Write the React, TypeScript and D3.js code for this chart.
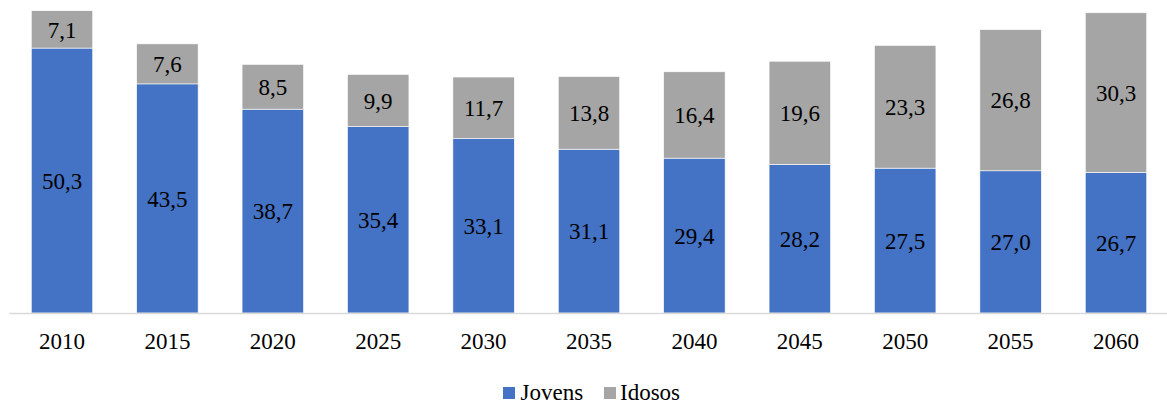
import React from "react";
import * as d3 from "d3";

const years = ["2010", "2015", "2020", "2025", "2030", "2035", "2040", "2045", "2050", "2055", "2060"];
const jovens = [50.3, 43.5, 38.7, 35.4, 33.1, 31.1, 29.4, 28.2, 27.5, 27.0, 26.7];
const idosos = [7.1, 7.6, 8.5, 9.9, 11.7, 13.8, 16.4, 19.6, 23.3, 26.8, 30.3];
const seriesNames = ["Jovens", "Idosos"];
const colors = ["#4472C4", "#A5A5A5"];

const W = 1167;
const H = 405;

const fmt = (v: number) => v.toFixed(1).replace(".", ",");

const txt: React.CSSProperties = { fontFamily: `"Times New Roman"`, fontSize: 23 };

export default function App() {
  const x = d3.scaleBand<string>().domain(years).range([9.3, 1168.7]).paddingInner(0.417).paddingOuter(0.2085);
  const y = d3.scaleLinear().domain([0, 60]).range([313, 313 - 60 * 5.267]);

  const rows = years.map((yr, i) => ({ year: yr, Jovens: jovens[i], Idosos: idosos[i] }));
  const stack = d3.stack<any>().keys(seriesNames)(rows);
  const bw = x.bandwidth();

  return (
    <div style={{ position: "absolute", left: 0, top: 0, width: W, height: H, background: "#fff" }}>
      <svg width={W} height={H} style={{ display: "block" }}>
        {stack.map((layer, si) => (
          <g key={seriesNames[si]}>
            {layer.map((d, i) => (
              <rect key={years[i]} x={x(years[i])!} y={y(d[1])} width={bw} height={y(d[0]) - y(d[1])} fill={colors[si]} stroke="#ffffff" strokeWidth={0.6} />
            ))}
          </g>
        ))}
        {stack.map((layer, si) => (
          <g key={"t" + seriesNames[si]}>
            {layer.map((d, i) => (
              <text key={years[i]} x={x(years[i])! + bw / 2} y={(y(d[0]) + y(d[1])) / 2} dy="0.36em" textAnchor="middle" style={txt} fill="#000">
                {fmt(si === 0 ? jovens[i] : idosos[i])}
              </text>
            ))}
          </g>
        ))}
        <line x1={9.3} x2={W} y1={313.5} y2={313.5} stroke="#D9D9D9" strokeWidth={1.3} />
        {years.map((yr) => (
          <text key={yr} x={x(yr)! + bw / 2} y={349} textAnchor="middle" style={txt} fill="#000">
            {yr}
          </text>
        ))}
        <rect x={503} y={387} width={12} height={12} fill={colors[0]} />
        <text x={520.5} y={400} style={txt} fill="#000">{seriesNames[0]}</text>
        <rect x={604} y={387} width={12} height={12} fill={colors[1]} />
        <text x={620} y={400} style={txt} fill="#000">{seriesNames[1]}</text>
      </svg>
    </div>
  );
}
